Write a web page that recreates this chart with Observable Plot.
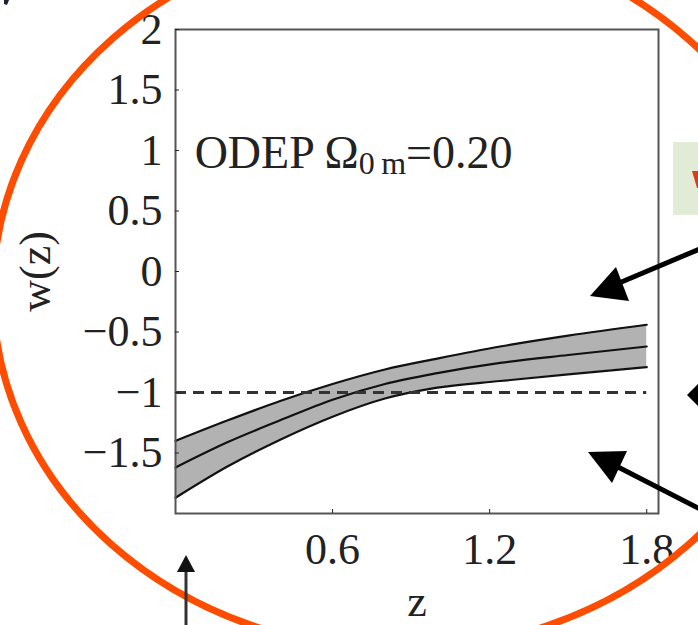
<!DOCTYPE html>
<html><head><meta charset="utf-8">
<script src="https://cdn.jsdelivr.net/npm/d3@7"></script>
<script src="https://cdn.jsdelivr.net/npm/@observablehq/plot@0.6"></script>
<style>
html,body{margin:0;padding:0;background:#fff;}
#wrap{position:relative;width:698px;height:625px;overflow:hidden;background:#fff;}
#wrap svg{position:absolute;left:0;top:0;}
</style></head><body><div id="wrap"></div>
<script>
// Data
const z      = [0,     0.2,   0.4,   0.6,   0.8,   1.0,   1.24,   1.5,   1.8];
const wUpper = [-1.40, -1.23, -1.07, -0.93, -0.81, -0.72, -0.62,  -0.53, -0.44];
const wMid   = [-1.62, -1.41, -1.23, -1.06, -0.93, -0.84, -0.755, -0.69, -0.62];
const wLower = [-1.87, -1.61, -1.39, -1.20, -1.05, -0.96, -0.905, -0.85, -0.79];
const xTicks = [0.6, 1.2, 1.8];
const yTicks = [-1.5, -1, -0.5, 0, 0.5, 1, 1.5, 2];
const refW = [-1];
const annotation = {model: "ODEP", sub: "0\u2009m", value: "=0.20"};

const data = z.map((d, i) => ({z: d, lo: wLower[i], mid: wMid[i], hi: wUpper[i]}));
const font = '"Liberation Serif", "Times New Roman", serif';
const fmt = d => (d < 0 ? "\u2212" : "") + Math.abs(d);

const plot = Plot.plot({
  width: 698, height: 625,
  marginLeft: 175, marginTop: 29, marginRight: 40, marginBottom: 112,
  style: {fontFamily: font, fontSize: "44px", color: "#222", background: "transparent", overflow: "visible"},
  x: {domain: [0, 1.845]},
  y: {domain: [-2, 2]},
  marks: [
    Plot.areaY(data, {x: "z", y1: "lo", y2: "hi", fill: "#b2b2b2", curve: "monotone-x"}),
    Plot.lineY(data, {x: "z", y: "hi", stroke: "#111", strokeWidth: 2.2, curve: "monotone-x"}),
    Plot.lineY(data, {x: "z", y: "mid", stroke: "#111", strokeWidth: 2.2, curve: "monotone-x"}),
    Plot.lineY(data, {x: "z", y: "lo", stroke: "#111", strokeWidth: 2.2, curve: "monotone-x"}),
    Plot.ruleY(refW, {x1: 0, x2: 1.8, stroke: "#333", strokeWidth: 2.8, strokeDasharray: "11,7"}),
    Plot.frame({stroke: "#555", strokeWidth: 2}),
    Plot.axisX({ticks: xTicks, tickSize: -4, tickPadding: 23, tickFormat: fmt,
      label: "z", labelAnchor: "center", labelArrow: "none", labelOffset: 102, fontSize: 44}),
    Plot.axisY({ticks: yTicks, tickSize: -4, tickPadding: 17, tickFormat: fmt,
      label: "w(z)", labelAnchor: "center", labelArrow: "none", labelOffset: 157, fontSize: 44})
  ]
});
document.getElementById("wrap").appendChild(plot);

// annotation text inside the frame
const sx = plot.scale("x"), sy = plot.scale("y");
const svg = d3.select(plot);
const t = svg.append("text")
  .attr("x", sx.apply(0.075)).attr("y", sy.apply(0.85)).attr("text-anchor", "start")
  .attr("font-family", font).attr("font-size", 46).attr("fill", "#222");
t.append("tspan").text(annotation.model + " \u03A9");
t.append("tspan").attr("font-size", 32).attr("dy", 6).text(annotation.sub);
t.append("tspan").attr("dy", -6).text(annotation.value);

// slide decorations (not data): orange ellipse, arrows, callout box
const ns = "http://www.w3.org/2000/svg";
const deco = d3.select("#wrap").append("svg")
  .attr("xmlns", ns).attr("width", 698).attr("height", 625).style("pointer-events", "none");
deco.append("rect").attr("x", 673).attr("y", 142).attr("width", 40).attr("height", 73).attr("fill", "#e1ebd5");
deco.append("path").attr("d", "M692,171 L699,171 L699,188 L697,188 Z").attr("fill", "#e0381a");
deco.append("ellipse").attr("cx", 400).attr("cy", 292).attr("rx", 407).attr("ry", 358)
  .attr("fill", "none").attr("stroke", "#ff4d00").attr("stroke-width", 7);
const arrows = [
  {line: [[702, 248], [612, 286]], head: [[590, 296], [616, 267], [629, 301]]},
  {line: [[702, 510], [618, 467]], head: [[588, 452], [627, 451], [612, 483]]},
  {line: [[702, 395], [697, 395]], head: [[687, 395], [700, 382], [700, 408]]}
];
for (const a of arrows) {
  deco.append("line").attr("x1", a.line[0][0]).attr("y1", a.line[0][1]).attr("x2", a.line[1][0]).attr("y2", a.line[1][1])
    .attr("stroke", "#000").attr("stroke-width", 5);
  deco.append("polygon").attr("points", a.head.map(p => p.join(",")).join(" ")).attr("fill", "#000");
}
deco.append("line").attr("x1", 186).attr("y1", 625).attr("x2", 186).attr("y2", 568)
  .attr("stroke", "#333").attr("stroke-width", 3);
deco.append("polygon").attr("points", "186,555 177,572 195,572").attr("fill", "#111");
deco.append("path").attr("d", "M4,0 L9,0 L7,5 L4,4 Z").attr("fill", "#1a2238");
</script></body></html>
